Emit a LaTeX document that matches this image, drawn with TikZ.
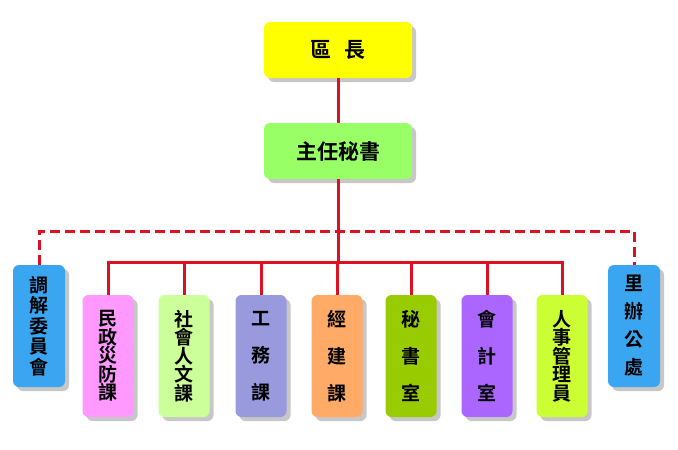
\documentclass[tikz,border=0pt]{standalone}
\usepackage{fontspec}
\newfontfamily\cjk{Noto Sans CJK TC}[BoldFont={Noto Sans CJK TC Bold}]
\usetikzlibrary{shadows}
\definecolor{cYel}{HTML}{FFFF00}
\definecolor{cMgr}{HTML}{99FF66}
\definecolor{cBlue}{HTML}{3AA6F2}
\definecolor{cPink}{HTML}{FF99FF}
\definecolor{cLgreen}{HTML}{CCFF99}
\definecolor{cLav}{HTML}{9999DD}
\definecolor{cOrange}{HTML}{FFAA66}
\definecolor{cGreen}{HTML}{99CC00}
\definecolor{cPurple}{HTML}{AA66FF}
\definecolor{cYgreen}{HTML}{CCFF33}
\definecolor{cLine}{HTML}{DD1122}
\tikzset{
  box/.style={rectangle, rounded corners=6pt, inner sep=0pt, align=center,
    drop shadow={shadow xshift=4pt, shadow yshift=-4pt, fill=black!40, opacity=0.55}},
  topbox/.style={box, minimum width=148pt, minimum height=56pt, font=\cjk\bfseries\fontsize{21}{24}\selectfont},
  unitbox/.style={box, minimum width=51pt, minimum height=122pt},
  sidebox/.style={box, minimum width=52pt, minimum height=122pt},
  link/.style={draw=cLine, line width=3pt},
  dlink/.style={draw=cLine, line width=3pt, dash pattern=on 10pt off 5pt},
}
\begin{document}
\begin{tikzpicture}[x=1pt,y=-1pt]
\useasboundingbox (0,0) rectangle (678,450);
% top
\node[topbox, fill=cYel] (zr) at (338,50) {區\hspace{14pt}長};
\node[topbox, fill=cMgr] (zm) at (338,151) {主任秘書};
% side boxes
\node[sidebox, fill=cBlue, font=\cjk\bfseries\fontsize{19}{20.5}\selectfont] (L) at (39,326) {調\\解\\委\\員\\會};
\node[sidebox, fill=cBlue, font=\cjk\bfseries\fontsize{19}{28}\selectfont] (R) at (634,326) {里\\辦\\公\\處};
% unit boxes
\node[unitbox, fill=cPink, font=\cjk\bfseries\fontsize{19}{18.5}\selectfont] (b1) at (108,356) {民\\政\\災\\防\\課};
\node[unitbox, fill=cLgreen, font=\cjk\bfseries\fontsize{19}{18.5}\selectfont] (b2) at (184,356) {社\\會\\人\\文\\課};
\node[unitbox, fill=cLav, font=\cjk\bfseries\fontsize{19}{37}\selectfont] (b3) at (261,356) {工\\務\\課};
\node[unitbox, fill=cOrange, font=\cjk\bfseries\fontsize{19}{37}\selectfont] (b4) at (337,356) {經\\建\\課};
\node[unitbox, fill=cGreen, font=\cjk\bfseries\fontsize{19}{37}\selectfont] (b5) at (411,356) {秘\\書\\室};
\node[unitbox, fill=cPurple, font=\cjk\bfseries\fontsize{19}{37}\selectfont] (b6) at (487,356) {會\\計\\室};
\node[unitbox, fill=cYgreen, font=\cjk\bfseries\fontsize{19}{18.5}\selectfont] (b7) at (562,356) {人\\事\\管\\理\\員};
% junctions
\coordinate (hs) at (338,262);
\coordinate (hd) at (338,231);
% connectors
\draw[link] (zr.south) -- (zm.north);
\draw[dlink] (L.north) |- (hd) -| (R.north);
\draw[link] (zm.south) -- (hs);
\draw[link] (b1.north) |- (hs) -| (b7.north);
\foreach \b in {b2,b3,b4,b5,b6} { \draw[link] (\b.north) -- (\b.north |- hs); }
\end{tikzpicture}
\end{document}
